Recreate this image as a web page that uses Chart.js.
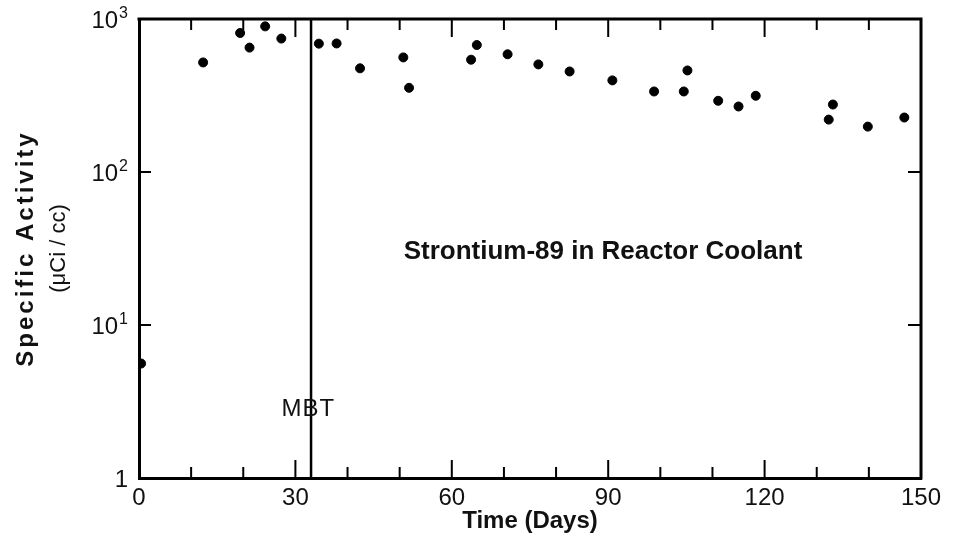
<!DOCTYPE html>
<html>
<head>
<meta charset="utf-8">
<script src="https://cdn.jsdelivr.net/npm/chart.js@4.4.1/dist/chart.umd.min.js"></script>
<style>
  html, body { margin: 0; padding: 0; background: #fff; }
</style>
</head>
<body>
<canvas id="chart_1" width="958" height="540"></canvas>
<script>
var days = [0.4, 12.3, 19.4, 21.2, 24.2, 27.3, 34.5, 37.9, 42.4, 50.7, 51.8, 63.7, 64.8, 70.7,
            76.6, 82.6, 90.8, 98.8, 104.5, 105.2, 111.1, 115, 118.3, 132.3, 133.1, 139.8, 146.8];
var activity = [5.6, 520, 810, 650, 895, 745, 690, 692, 476, 561, 355, 542, 676, 588,
                505, 454, 397, 336, 336, 461, 292, 268, 315, 220, 276, 198, 227];

var mbtDay = 33;
var xTickValues = [0, 30, 60, 90, 120, 150];
var xMinorTicks = [10, 20, 30, 40, 50, 60, 70, 80, 90, 100, 110, 120, 130, 140];
var yTickValues = [1, 10, 100, 1000];
var yTickExponents = ['', '1', '2', '3'];
var yInnerTicks = [10, 100];

var points = days.map(function (d, i) { return { x: d, y: activity[i] }; });

var FONT = '"Liberation Sans", Arial, sans-serif';

// frame on top/right, inward tick marks, y labels with exponents, text in the plot
var framePlugin = {
  id: 'frame',
  afterDraw: function (chart) {
    var ctx = chart.ctx;
    var a = chart.chartArea;
    var xs = chart.scales.x, ys = chart.scales.y;
    ctx.save();
    ctx.strokeStyle = '#000';
    ctx.lineWidth = 3;
    ctx.beginPath();
    ctx.moveTo(a.left - 1.5, a.top);
    ctx.lineTo(a.right, a.top);
    ctx.lineTo(a.right, a.bottom + 1.5);
    ctx.stroke();

    ctx.lineWidth = 2;
    ctx.beginPath();
    xMinorTicks.forEach(function (v) {
      var px = xs.getPixelForValue(v);
      var len = v % 30 === 0 ? 18 : 11;
      ctx.moveTo(px, a.bottom);
      ctx.lineTo(px, a.bottom - len);
      ctx.moveTo(px, a.top);
      ctx.lineTo(px, a.top + len);
    });
    yInnerTicks.forEach(function (v) {
      var py = ys.getPixelForValue(v);
      ctx.moveTo(a.left, py);
      ctx.lineTo(a.left + 12, py);
      ctx.moveTo(a.right, py);
      ctx.lineTo(a.right - 13, py);
    });
    ctx.stroke();

    // y tick labels: 1, 10^1, 10^2, 10^3
    ctx.fillStyle = '#111';
    ctx.textAlign = 'right';
    ctx.textBaseline = 'alphabetic';
    var rightEdge = a.left - 11;
    yTickValues.forEach(function (v, i) {
      var py = ys.getPixelForValue(v);
      var exp = yTickExponents[i];
      if (!exp) {
        ctx.font = '24px ' + FONT;
        ctx.fillText('1', rightEdge, py + 8.5);
        return;
      }
      ctx.font = '16px ' + FONT;
      var w = ctx.measureText(exp).width;
      ctx.fillText(exp, rightEdge, py - 1);
      ctx.font = '24px ' + FONT;
      ctx.fillText('10', rightEdge - w - 1, py + 8.5);
    });

    // labels inside the plot
    ctx.textAlign = 'center';
    ctx.textBaseline = 'middle';
    ctx.font = 'bold 26px ' + FONT;
    ctx.fillText('Strontium-89 in Reactor Coolant', xs.getPixelForValue(89), ys.getPixelForValue(30));
    ctx.font = '24px ' + FONT;
    ctx.letterSpacing = '1px';
    ctx.fillText('MBT', xs.getPixelForValue(32.5), ys.getPixelForValue(2.8));

    // y axis title, two lines
    var cy = (a.top + a.bottom) / 2;
    ctx.translate(26, cy);
    ctx.rotate(-Math.PI / 2);
    ctx.font = 'bold 24px ' + FONT;
    ctx.letterSpacing = '3px';
    ctx.fillText('Specific Activity', 0, 0);
    ctx.font = '22px ' + FONT;
    ctx.letterSpacing = '0px';
    ctx.fillText('(\u03bcCi / cc)', 0, 33);
    ctx.restore();
  }
};

var myChart = new Chart('chart_1', {
  type: 'scatter',
  data: {
    datasets: [{
      label: 'Sr-89',
      data: points,
      backgroundColor: '#000',
      borderColor: '#000',
      pointRadius: 4.5,
      pointHoverRadius: 4.5
    }, {
      type: 'line',
      label: 'MBT',
      data: [{ x: mbtDay, y: 1 }, { x: mbtDay, y: 1000 }],
      borderColor: '#000',
      borderWidth: 2.5,
      pointRadius: 0,
      fill: false
    }]
  },
  options: {
    responsive: false,
    animation: false,
    layout: { padding: { top: 19, right: 37, left: 0, bottom: 0 } },
    plugins: {
      legend: { display: false },
      tooltip: { enabled: false }
    },
    scales: {
      x: {
        type: 'linear',
        min: 0,
        max: 150,
        afterBuildTicks: function (scale) {
          scale.ticks = xTickValues.map(function (v) { return { value: v }; });
        },
        afterFit: function (scale) { scale.height = 62; },
        ticks: {
          color: '#111',
          padding: 6,
          maxRotation: 0,
          font: { family: FONT, size: 24 }
        },
        grid: { display: false, drawTicks: false },
        border: { display: true, color: '#000', width: 3 },
        title: {
          display: true,
          text: 'Time (Days)',
          color: '#111',
          padding: { top: 0, bottom: 4 },
          font: { family: FONT, size: 24, weight: 'bold' }
        }
      },
      y: {
        type: 'logarithmic',
        min: 1,
        max: 1000,
        afterBuildTicks: function (scale) {
          scale.ticks = yTickValues.map(function (v) { return { value: v }; });
        },
        afterFit: function (scale) { scale.width = 139; },
        ticks: { display: false },
        grid: { display: false, drawTicks: false },
        border: { display: true, color: '#000', width: 3 }
      }
    }
  },
  plugins: [framePlugin]
});
</script>
</body>
</html>
